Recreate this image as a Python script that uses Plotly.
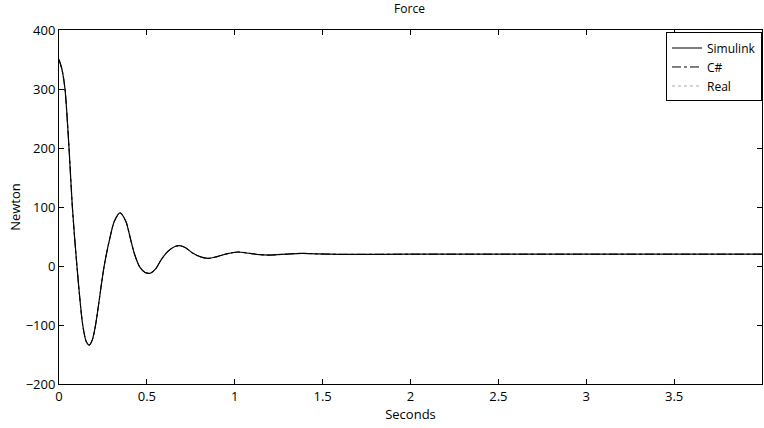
import plotly.graph_objects as go

# Time (s) and force (N)
t = [0.0, 0.017, 0.034, 0.057, 0.076, 0.102, 0.135, 0.155, 0.172, 0.19, 0.208, 0.257,
     0.29, 0.315, 0.347, 0.38, 0.405, 0.43, 0.46, 0.49, 0.521, 0.55, 0.58, 0.62,
     0.66, 0.687, 0.72, 0.76, 0.81, 0.852, 0.9, 0.96, 1.019, 1.07, 1.14, 1.2,
     1.29, 1.38, 1.47, 1.6, 2.0, 2.5, 3.0, 3.5, 4.0]
simulink = [350, 333, 300, 200, 100, 0, -100, -128, -134, -125, -100, 0,
            48, 76, 90, 76, 48, 20, -2, -11, -12, -5, 10, 25,
            33, 34.5, 31, 22, 15, 13, 16, 21, 23.7, 22, 19.2, 18.6,
            20, 21.5, 20.5, 19.8, 20, 20, 20, 20, 20]
csharp = list(simulink)
real = list(simulink)

xticks = [0, 0.5, 1, 1.5, 2, 2.5, 3, 3.5, 4]
yticks = [-200, -100, 0, 100, 200, 300, 400]

font = "Open Sans, Liberation Sans, sans-serif"

fig = go.Figure()
fig.add_trace(go.Scatter(x=t, y=real, mode="lines", name="Real",
                         line=dict(color="#aaaaaa", width=1, dash="dot", shape="spline", smoothing=0.8),
                         showlegend=False))
fig.add_trace(go.Scatter(x=t, y=csharp, mode="lines", name="C#",
                         line=dict(color="black", width=1, dash="dashdot", shape="spline", smoothing=0.8),
                         showlegend=False))
fig.add_trace(go.Scatter(x=t, y=simulink, mode="lines", name="Simulink",
                         line=dict(color="black", width=1.2, shape="spline", smoothing=0.8)))
# legend-only entries in the reference order
fig.add_trace(go.Scatter(x=[None], y=[None], mode="lines", name="C#",
                         line=dict(color="black", width=1, dash="dashdot")))
fig.add_trace(go.Scatter(x=[None], y=[None], mode="lines", name="Real",
                         line=dict(color="#aaaaaa", width=1, dash="dot")))

axis_common = dict(showgrid=False, zeroline=False, showline=True, linecolor="black",
                   linewidth=1, mirror="ticks", ticks="inside", ticklen=5, automargin=False,
                   tickcolor="black", tickfont=dict(size=13, color="black", family=font))

fig.update_layout(
    width=764, height=428,
    margin=dict(l=59, r=2, t=30, b=44),
    paper_bgcolor="white", plot_bgcolor="white",
    font=dict(family=font, size=12, color="black"),
    title=dict(text="Force", x=0.536, xanchor="center", y=0.99, yanchor="top",
               font=dict(size=12, color="black", family=font)),
    xaxis=dict(range=[0, 4], tickvals=xticks, ticktext=[str(v) for v in xticks],
               title=dict(text="Seconds", font=dict(size=13), standoff=3), **axis_common),
    yaxis=dict(range=[-200, 400], tickvals=yticks,
               ticktext=["\u2212200" if v == -200 else ("\u2212100" if v == -100 else str(v)) for v in yticks],
               title=dict(text="Newton", font=dict(size=13), standoff=2), **axis_common),
    legend=dict(x=1, y=0.993, xanchor="right", yanchor="top", bgcolor="white",
                bordercolor="black", borderwidth=1, font=dict(size=12, family=font),
                tracegroupgap=0, itemwidth=30),
)

fig.write_html("out.html", config={"displayModeBar": False},
               post_script="document.body.style.margin='0';document.body.style.overflow='hidden';")
